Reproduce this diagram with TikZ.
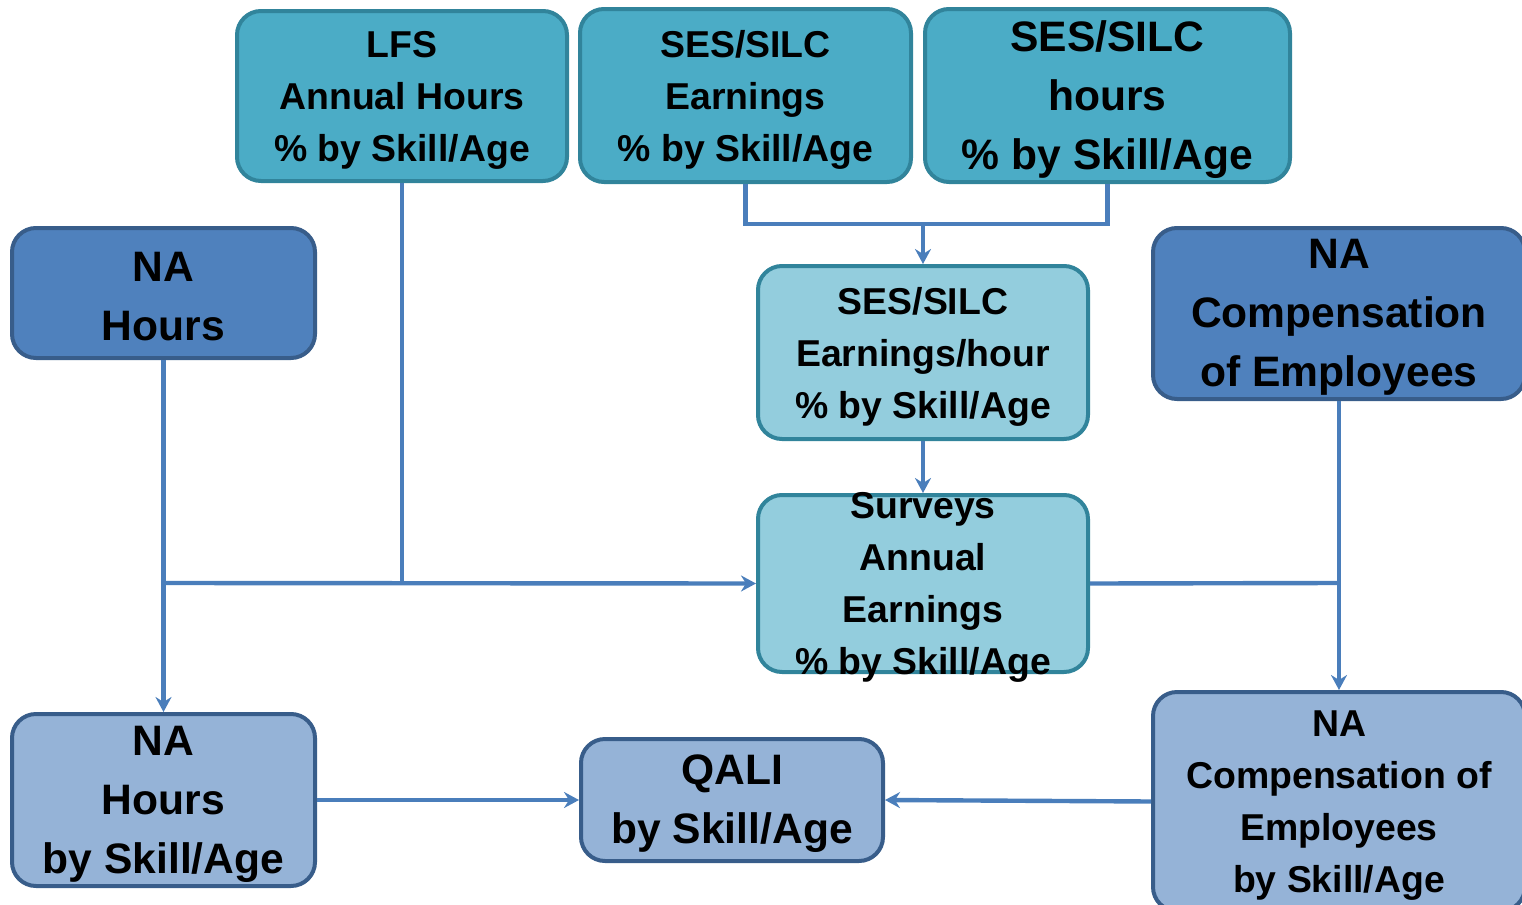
\documentclass[tikz,border=0pt]{standalone}
\usepackage{fontspec}
\setmainfont{Liberation Sans}
\usetikzlibrary{arrows.meta}
\definecolor{tealfill}{HTML}{4BACC6}
\definecolor{tealline}{HTML}{31849B}
\definecolor{ltealfill}{HTML}{93CDDD}
\definecolor{bluefill}{HTML}{4F81BD}
\definecolor{blueline}{HTML}{385D8A}
\definecolor{lbluefill}{HTML}{95B3D7}
\definecolor{conn}{HTML}{4A7EBB}
\begin{document}
\begin{tikzpicture}[x=0.5pt,y=-0.5pt,
  box/.style={draw, line width=2pt, rounded corners=12pt, inner sep=0pt},
  tealbox/.style={box, fill=tealfill, draw=tealline},
  ltealbox/.style={box, fill=ltealfill, draw=tealline},
  bluebox/.style={box, fill=bluefill, draw=blueline},
  lbluebox/.style={box, fill=lbluefill, draw=blueline},
  txt/.style={align=center, inner sep=0pt, yshift=-2pt, font=\bfseries\fontsize{18.7}{26}\selectfont},
  bigtxt/.style={align=center, inner sep=0pt, yshift=-2pt, font=\bfseries\fontsize{21.3}{29.5}\selectfont},
  link/.style={draw=conn, line width=2.2pt},
  arr/.style={link, -{Stealth[length=7.5pt,width=8pt,inset=2.5pt]}}
]
\useasboundingbox (0,0) rectangle (1522,905);
\clip (0,0) rectangle (1522,905);

% boxes
\node[tealbox, minimum width=165pt, minimum height=85pt] (lfs) at (402,96) {};
\node[txt] (lfst) at (lfs) {LFS\\Annual Hours\\\% by Skill/Age};

\node[tealbox, minimum width=165.5pt, minimum height=86.5pt] (sese) at (745.5,95.5) {};
\node[txt] (seset) at (sese) {SES/SILC\\Earnings\\\% by Skill/Age};

\node[tealbox, minimum width=182.5pt, minimum height=86.5pt] (sesh) at (1107.5,95.5) {};
\node[bigtxt] (sesht) at (sesh) {SES/SILC\\hours\\\% by Skill/Age};

\node[bluebox, minimum width=151.5pt, minimum height=65pt] (nah) at (163.5,293) {};
\node[bigtxt] (naht) at (nah) {NA\\Hours};

\node[bluebox, minimum width=186pt, minimum height=85.5pt] (nac) at (1339,313.5) {};
\node[bigtxt] (nact) at (nac) {NA\\Compensation\\of Employees};

\node[ltealbox, minimum width=165pt, minimum height=86.5pt] (seseh) at (923,352.5) {};
\node[txt] (seseht) at (seseh) {SES/SILC\\Earnings/hour\\\% by Skill/Age};

\node[ltealbox, minimum width=165pt, minimum height=88.5pt] (surv) at (923,583.5) {};
\node[txt] (survt) at (surv) {Surveys\\Annual\\Earnings\\\% by Skill/Age};

\node[lbluebox, minimum width=151.5pt, minimum height=86pt] (nahs) at (163.5,800) {};
\node[bigtxt] (nahst) at (nahs) {NA\\Hours\\by Skill/Age};

\node[lbluebox, minimum width=151pt, minimum height=61pt] (qali) at (732,800) {};
\node[bigtxt] (qalit) at (qali) {QALI\\by Skill/Age};

\node[lbluebox, minimum width=186pt, minimum height=109.5pt] (nacs) at (1339,801.5) {};
\node[txt] (nacst) at (nacs) {NA\\Compensation of\\Employees\\by Skill/Age};

% junctions
\coordinate (jh) at (163.5,583);
\coordinate (jl) at (402,583);
\coordinate (jc) at (1339,583);
\coordinate (js) at (923,224);

% connectors
\draw[link] (lfs.south) -- (jl);
\draw[arr] (jh) -- (surv.west);
\draw[arr] (nah.south) -- (nahs.north);
\draw[link] (sese.south) |- (js) -| (sesh.south);
\draw[arr] (js) -- (seseh.north);
\draw[arr] (seseh.south) -- (surv.north);
\draw[arr] (nac.south) -- (nacs.north);
\draw[link] (surv.east) -- (jc);
\draw[arr] (nahs.east) -- (qali.west);
\draw[arr] (nacs.west) -- (qali.east);
\end{tikzpicture}
\end{document}
